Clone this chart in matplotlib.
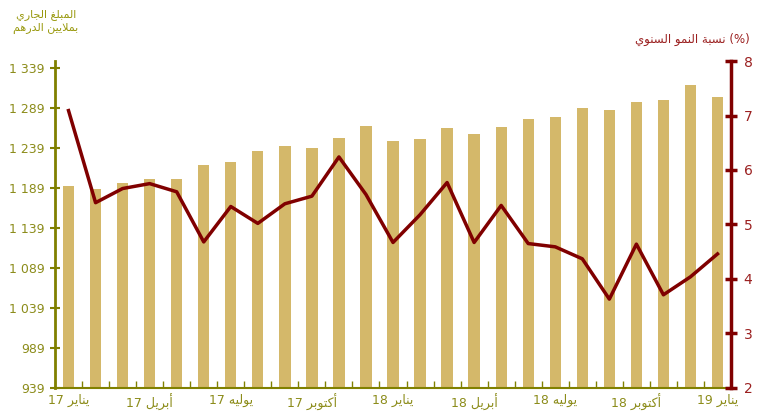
import matplotlib.pyplot as plt
import numpy as np

# Données
mois = ["يناير 17", "", "", "أبريل 17", "", "", "يوليه 17", "", "", "أكتوبر 17", "", "",
        "يناير 18", "", "", "أبريل 18", "", "", "يوليه 18", "", "", "أكتوبر 18", "", "",
        "يناير 19"]
montant = [1191, 1188, 1195, 1200, 1200, 1218, 1221, 1235, 1241, 1239, 1251, 1266,
           1248, 1250, 1264, 1256, 1265, 1275, 1277, 1289, 1286, 1296, 1299, 1318, 1303]
croissance = [7.09, 5.40, 5.66, 5.75, 5.60, 4.68, 5.33, 5.02, 5.38, 5.52, 6.24, 5.55,
              4.67, 5.18, 5.77, 4.67, 5.35, 4.65, 4.59, 4.37, 3.63, 4.64, 3.71, 4.04, 4.46]
y_ticks = [939, 989, 1039, 1089, 1139, 1189, 1239, 1289, 1339]

# formes de présentation arabes (isolée) ; True = lettre à double liaison
FORMES = {
    'ا': (0xFE8D, False), 'أ': (0xFE83, False), 'ب': (0xFE8F, True), 'ة': (0xFE93, False),
    'ت': (0xFE95, True), 'ج': (0xFE9D, True), 'د': (0xFEA9, False), 'ر': (0xFEAD, False),
    'س': (0xFEB1, True), 'غ': (0xFECD, True), 'ك': (0xFED9, True), 'ل': (0xFEDD, True),
    'م': (0xFEE1, True), 'ن': (0xFEE5, True), 'ه': (0xFEE9, True), 'و': (0xFEED, False),
    'ي': (0xFEF1, True),
}


def forme_mot(mot):
    # Ligature lam-alef
    lettres = []
    i = 0
    while i < len(mot):
        if mot[i] == 'ل' and i + 1 < len(mot) and mot[i + 1] == 'ا':
            lettres.append('LA')
            i += 2
        else:
            lettres.append(mot[i])
            i += 1
    res = []
    for k, c in enumerate(lettres):
        prev = lettres[k - 1] if k > 0 else None
        suiv = lettres[k + 1] if k + 1 < len(lettres) else None
        lie_avant = prev is not None and prev != 'LA' and FORMES.get(prev, (0, False))[1]
        if c == 'LA':
            res.append(chr(0xFEFC if lie_avant else 0xFEFB))
            continue
        if c not in FORMES:
            res.append(c)
            continue
        base, double = FORMES[c]
        lie_apres = double and suiv is not None and (suiv == 'LA' or suiv in FORMES)
        if lie_avant and lie_apres:
            res.append(chr(base + 3))
        elif lie_avant:
            res.append(chr(base + 1))
        elif lie_apres:
            res.append(chr(base + 2))
        else:
            res.append(chr(base))
    return ''.join(reversed(res))


def ar(texte):
    # texte arabe -> ordre visuel
    mots = texte.split(' ')
    return ' '.join(forme_mot(m) for m in reversed(mots))


def etiquette(t):
    if not t:
        return ''
    mot, num = t.rsplit(' ', 1)
    return num + ' ' + ar(mot)


olive = '#808000'
olive_txt = '#8c8c1a'
rouge = '#800000'
barre = '#d4b86a'

fig = plt.figure(figsize=(7.65, 4.15), dpi=100)
ax = fig.add_axes([0.0719, 0.0651, 0.8837, 0.7879])
x = np.arange(len(montant))
ax.bar(x, np.array(montant) - 939, bottom=939, width=0.42, color=barre, zorder=2)
ax.set_ylim(939, 1347.5)
ax.set_xlim(-0.5, len(montant) - 0.5)
ax.set_yticks(y_ticks)
ax.set_yticklabels([f"{v:,}".replace(',', ' ') for v in y_ticks], color=olive_txt, fontsize=9)
ax.tick_params(axis='y', direction='inout', length=7, width=1.5, color=olive, pad=4)
ax.set_xticks(x)
ax.set_xticklabels([etiquette(m) for m in mois], color=olive_txt, fontsize=9)
ax.set_xticks(np.arange(-0.5, len(montant), 1), minor=True)
ax.tick_params(axis='x', which='major', length=0, pad=4)
ax.tick_params(axis='x', which='minor', direction='in', length=5, width=1, color=olive)
ax.spines['top'].set_visible(False)
ax.spines['right'].set_visible(False)
ax.spines['left'].set_color(olive)
ax.spines['left'].set_linewidth(2)
ax.spines['bottom'].set_color(olive)
ax.spines['bottom'].set_linewidth(1.5)

ax2 = ax.twinx()
ax2.plot(x, croissance, color=rouge, linewidth=2.5, zorder=3)
ax2.set_ylim(2, 8)
ax2.set_yticks(range(2, 9))
ax2.tick_params(axis='y', direction='inout', length=8, width=2.5, color=rouge,
                labelcolor='#9b2020', labelsize=10, pad=5)
ax2.spines['top'].set_visible(False)
ax2.spines['left'].set_visible(False)
ax2.spines['bottom'].set_visible(False)
ax2.spines['right'].set_color(rouge)
ax2.spines['right'].set_linewidth(2.5)

fig.text(0.06, 0.978, ar("المبلغ الجاري") + "\n" + ar("بملايين الدرهم"),
         color='#9a9a10', fontsize=8, ha='center', va='top', linespacing=1.3)
fig.text(0.905, 0.905, ar("نسبة النمو السنوي") + " (%)", color='#9b2020', fontsize=8.5,
         ha='center', va='center')

fig.savefig("out.png", dpi=100)
